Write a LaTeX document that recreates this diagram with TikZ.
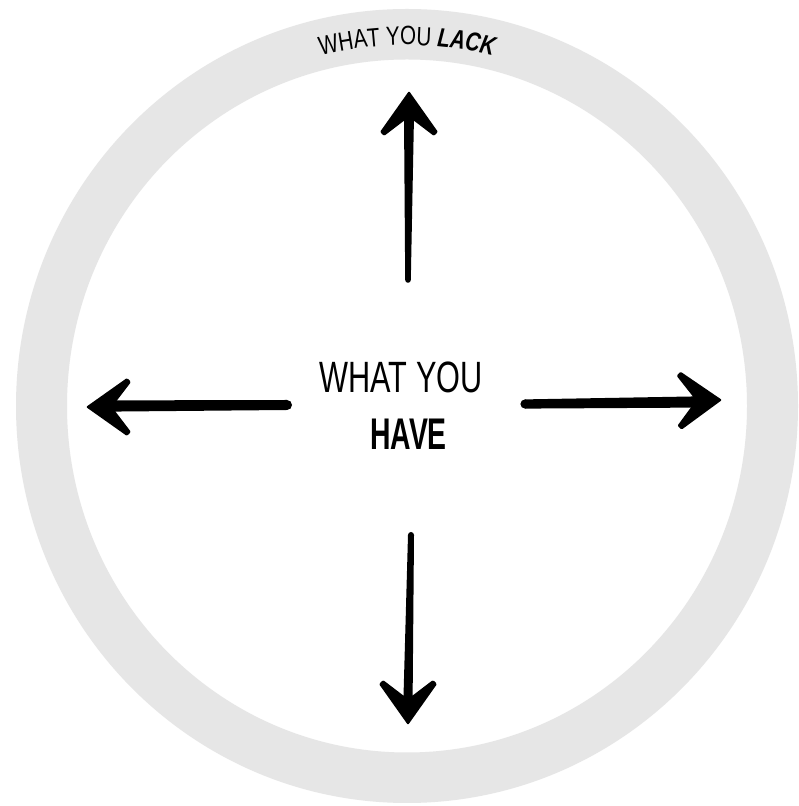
\documentclass[tikz,border=0pt]{standalone}
\usepackage{fontspec}
\usetikzlibrary{calc,decorations.text}
\newfontfamily\midreg[FakeStretch=0.70]{Liberation Sans}
\newfontfamily\midbold[FakeStretch=0.64]{Liberation Sans}
\newfontfamily\topreg[FakeStretch=0.78]{Liberation Sans}
\definecolor{ringgray}{RGB}{230,230,230}
\newcommand\brushshaft[4]{%
  \fill ($(#1)!#3!90:(#2)$) -- ($(#2)!#4!-90:(#1)$) -- ($(#2)!#4!90:(#1)$) -- ($(#1)!#3!-90:(#2)$) -- cycle;
  \fill (#1) circle[radius=#3];}
\tikzset{
  brushhead/.pic={\fill[rounded corners=1.2bp] (2,0) -- (-39,29) -- (-43,25) -- (-27,4) -- (-27,-4) -- (-43,-25) -- (-39,-29) -- cycle;},
  midtext/.style={anchor=base, inner sep=0pt, text=black},
}
\begin{document}
\begin{tikzpicture}[x=1bp,y=1bp]
\useasboundingbox (0,0) rectangle (799,806);
\fill[white] (0,0) rectangle (799,806);
% ring
\fill[ringgray, even odd rule] (407,400) ellipse [x radius=391, y radius=397]
                               (407,400) ellipse [x radius=340, y radius=346.5];
% top text on arc
\path[decorate, decoration={text along path, text align=center,
  text={|\topreg\fontsize{26.5}{30}\selectfont|WHAT YOU |\topreg\bfseries\itshape\fontsize{26.5}{30}\selectfont|LACK}}]
  (407,401) ++(115:360) arc[start angle=115, end angle=65, radius=360];
% centre text
\node[midtext, font=\midreg\fontsize{44}{50}\selectfont] (have1) at (401,413) {WHAT YOU};
\node[midtext, font=\midbold\bfseries\fontsize{44.5}{50}\selectfont] (have2) at (408.5,356) {HAVE};
% arrow coordinates
\coordinate (upTip) at (409,713);   \coordinate (upEnd) at (409,690);   \coordinate (upTail) at (408,526);
\coordinate (dnTip) at (408,83);    \coordinate (dnEnd) at (408,106);   \coordinate (dnTail) at (411,271);
\coordinate (ltTip) at (88,399);    \coordinate (ltEnd) at (111,400);   \coordinate (ltTail) at (287,401);
\coordinate (rtTip) at (720,406);   \coordinate (rtEnd) at (697,404);   \coordinate (rtTail) at (525,402);
% shafts
\brushshaft{upTail}{upEnd}{2.8bp}{5bp}
\brushshaft{dnTail}{dnEnd}{3bp}{4.6bp}
\brushshaft{ltTail}{ltEnd}{5bp}{5.6bp}
\brushshaft{rtTail}{rtEnd}{4.6bp}{5.6bp}
% heads
\pic[rotate=90]  at (upTip) {brushhead};
\pic[rotate=-90] at (dnTip) {brushhead};
\pic[rotate=180] at (ltTip) {brushhead};
\pic[rotate=1]   at (rtTip) {brushhead};
\end{tikzpicture}
\end{document}
